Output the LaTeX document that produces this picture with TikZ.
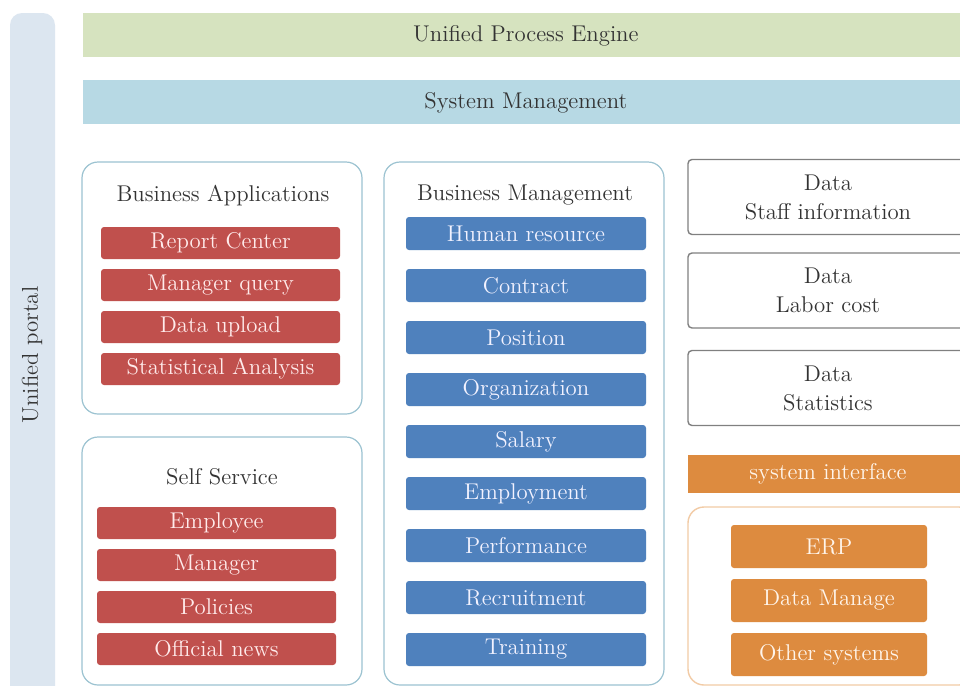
\documentclass[tikz,border=0pt]{standalone}
\usepackage{tikz}
\usepackage{xcolor}

\definecolor{portalblue}{HTML}{DCE6F0}
\definecolor{enginegreen}{HTML}{D6E3BF}
\definecolor{sysblue}{HTML}{B7D9E4}
\definecolor{panelline}{HTML}{9CC3D1}
\definecolor{appred}{HTML}{C0504D}
\definecolor{mgmtblue}{HTML}{4F81BD}
\definecolor{ifaceorange}{HTML}{DD8B3F}
\definecolor{ifaceline}{HTML}{F2CBA5}
\definecolor{textgrey}{HTML}{333333}

\tikzset{
  lbl/.style={font=\fontsize{11.4}{14.5}\selectfont, text=textgrey, inner sep=0pt},
  band/.style={lbl, anchor=north west, minimum width=442.5pt, minimum height=22pt},
  panel/.style={draw=panelline, line width=0.6pt, rounded corners=8pt},
  appbox/.style={lbl, fill=appred, text=red!8, rounded corners=1.5pt,
    minimum width=119.5pt, minimum height=16pt},
  mgmtbox/.style={lbl, fill=mgmtblue, text=blue!5, rounded corners=1.5pt,
    minimum width=120pt, minimum height=16.5pt},
  databox/.style={lbl, draw=gray, line width=0.7pt, rounded corners=2pt,
    align=center, minimum width=140pt, minimum height=37.5pt},
  extbox/.style={lbl, fill=ifaceorange, text=orange!8, rounded corners=1.5pt,
    minimum width=98pt, minimum height=21.5pt}
}

\begin{document}
\begin{tikzpicture}[x=0.5pt,y=-0.5pt]
  \useasboundingbox (0,0) rectangle (960,686);
  \fill[white] (0,0) rectangle (960,686);

  % portal strip on the left
  \fill[portalblue, rounded corners=6pt] (10,13) rectangle (55,720);
  \node[lbl, rotate=90] (portal) at (32,355) {Unified portal};

  % top layers
  \node[band, fill=enginegreen] (engine) at (83,13) {Unified Process Engine};
  \node[band, fill=sysblue] (sysmgmt) at (83,80) {System Management};

  % business applications
  \draw[panel] (82,162) rectangle (362,414);
  \node[lbl] (apptitle) at (223,196) {Business Applications};
  \foreach \txt [count=\i] in {Report Center, Manager query, Data upload, Statistical Analysis}{
    \node[appbox] (app\i) at (220.5,{201+42*\i}) {\txt};
  }

  % self service
  \draw[panel] (82,437) rectangle (362,685);
  \node[lbl] (selftitle) at (222,477) {Self Service};
  \foreach \txt [count=\i] in {Employee, Manager, Policies, Official news}{
    \node[appbox] (self\i) at (216.5,{481+42*\i}) {\txt};
  }

  % business management column
  \draw[panel] (384,162) rectangle (664,685);
  \node[lbl] (mgmttitle) at (525,195) {Business Management};
  \foreach \txt [count=\i] in {Human resource, Contract, Position, Organization, Salary,
      Employment, Performance, Recruitment, Training}{
    \node[mgmtbox] (mgmt\i) at (526,{181.5+52*\i}) {\txt};
  }

  % data stores
  \foreach \txt/\y [count=\i] in {Staff information/197, Labor cost/290.5, Statistics/388}{
    \node[databox] (data\i) at (828,\y) {Data\\\txt};
  }

  % external systems
  \node[lbl, fill=ifaceorange, text=orange!8, minimum width=140pt, minimum height=19pt]
    (iface) at (828,474) {system interface};
  \draw[draw=ifaceline, line width=0.7pt, rounded corners=8pt] (688,507) rectangle (975,685);
  \foreach \txt [count=\i] in {ERP, Data Manage, Other systems}{
    \node[extbox] (ext\i) at (829,{492.5+54*\i}) {\txt};
  }
\end{tikzpicture}
\end{document}
